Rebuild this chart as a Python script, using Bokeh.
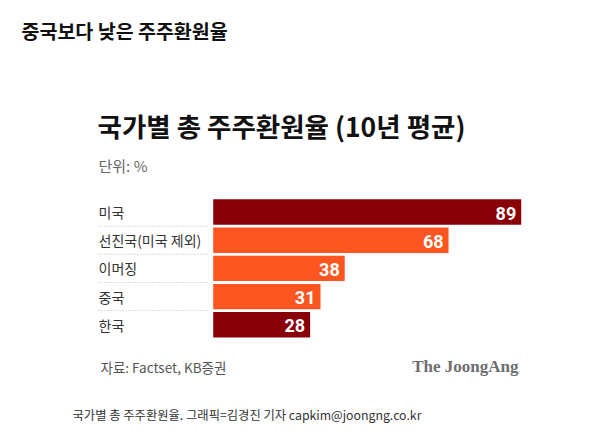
from bokeh.plotting import figure
from bokeh.models import Range1d, Label, ColumnDataSource
from bokeh.core.properties import value
from bokeh.embed import file_html
from bokeh.resources import INLINE

# data
categories = ['미국', '선진국(미국 제외)', '이머징', '중국', '한국']
rates = [89, 68, 38, 31, 28]
bar_colors = ['#8a0008', '#fd5520', '#fd5520', '#fd5520', '#8a0008']

headline = '중국보다 낮은 주주환원율'
chart_title = '국가별 총 주주환원율 (10년 평균)'
unit_note = '단위: %'
source_note = '자료: Factset, KB증권'
brand = 'The JoongAng'
caption = '국가별 총 주주환원율. 그래픽=김경진 기자 capkim@joongng.co.kr'

W, H = 578, 424
KR = "Noto Sans CJK KR"

# pixel layout (top-left origin)
x0_px = 212.7        # where value 0 sits
px_per_unit = 3.461
row0_px = 211.5      # centre of first row
row_px = 28.2

x_start = -x0_px / px_per_unit
x_end = (W - x0_px) / px_per_unit
y_top = -row0_px / row_px
y_bottom = y_top + H / row_px

p = figure(width=W, height=H, output_backend="svg", toolbar_location=None,
           x_range=Range1d(x_start, x_end), y_range=Range1d(y_bottom, y_top),
           min_border=0, outline_line_color=None)
p.axis.visible = False
p.grid.visible = False
p.background_fill_color = "white"
p.border_fill_color = "white"

rows = list(range(len(categories)))
src = ColumnDataSource(dict(y=rows, v=rates, c=bar_colors, cat=categories,
                            lab=[str(r) for r in rates]))

p.hbar(y='y', left=0, right='v', height=0.9, fill_color='c', line_color=None, source=src)

p.text(x='v', y='y', text='lab', source=src, x_offset=-5, y_offset=1,
       text_align='right', text_baseline='middle', text_color='white',
       text_font=value("Roboto"), text_font_style='bold', text_font_size='18px')

label_x = (98 - x0_px) / px_per_unit
p.text(x=label_x, y='y', text='cat', source=src,
       text_align='left', text_baseline='middle', text_color='#333333',
       text_font=value(KR), text_font_size='14px')

# dotted separators between the rows
sep_y = [r + 0.5 for r in rows[:-1]]
p.segment(x0=label_x, x1=(207 - x0_px) / px_per_unit, y0=sep_y, y1=sep_y,
          line_color='#bbbbbb', line_dash='1 2', line_width=1)


def put(text, x, y, size, color, style='normal', font=KR, align='left'):
    p.add_layout(Label(x=x, y=H - y, x_units='screen', y_units='screen', text=text,
                       text_font=font, text_font_size=size, text_color=color,
                       text_font_style=style, text_baseline='middle', text_align=align))


put(headline, 21, 30, '19.5px', '#111111', 'bold')
put(chart_title, 97, 125, '26.5px', '#111111', 'bold')
put(unit_note, 98, 165, '15px', '#666666')
put(source_note, 100, 366, '13.5px', '#555555')
put(brand, 518, 366, '17px', '#6e6e6e', 'bold', "Liberation Serif", 'right')
put(caption, 72, 414, '12.3px', '#333333')

open("out.html", "w").write(file_html(p, INLINE))
